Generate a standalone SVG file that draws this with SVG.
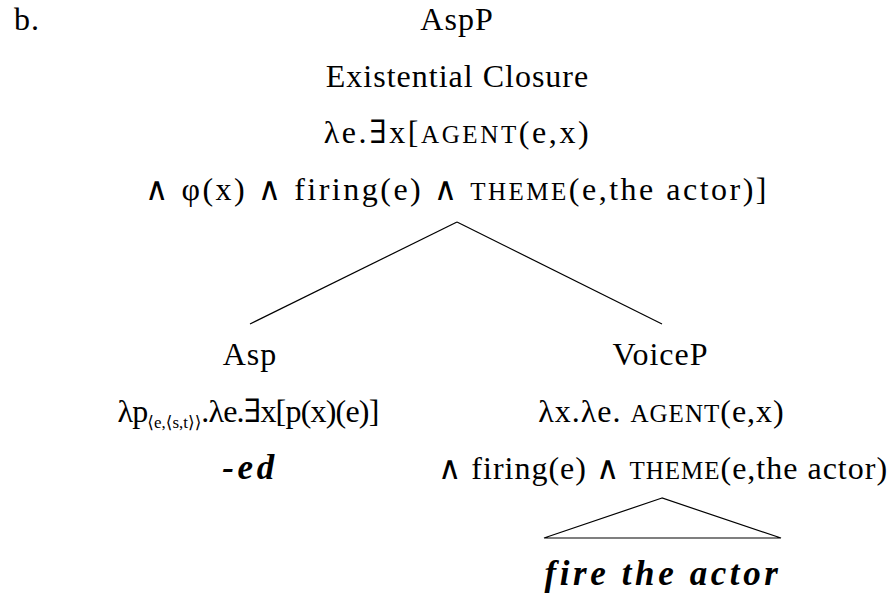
<svg xmlns="http://www.w3.org/2000/svg" width="890" height="597" viewBox="0 0 890 597">
<style>
text{font-family:'Liberation Serif','DejaVu Serif',serif;font-size:32px;fill:#000;text-anchor:middle;letter-spacing:1px}
.sym{font-family:'DejaVu Serif',serif}
.sc{font-size:25px}
.sub{font-size:17px;letter-spacing:0}
.bi{font-weight:bold;font-style:italic;font-size:35px;letter-spacing:3.6px}
.edge{stroke:#000;stroke-width:1.2;fill:none}
</style>
<rect width="890" height="597" fill="#fff"/>
<text x="14" y="30" style="text-anchor:start">b.</text>
<g id="aspp">
<text x="457" y="30">AspP</text>
<text x="457.5" y="87">Existential Closure</text>
<text x="457.5" y="143" style="letter-spacing:2.6px">λe.<tspan class="sym">∃</tspan>x[<tspan class="sc">AGENT</tspan>(e,x)</text>
<text x="457" y="200" style="letter-spacing:2.5px"><tspan class="sym">∧</tspan> φ(x) <tspan class="sym">∧</tspan> firing(e) <tspan class="sym">∧</tspan> <tspan class="sc">THEME</tspan>(e,the actor)]</text>
</g>
<g id="asp">
<text x="250" y="365">Asp</text>
<text x="248" y="422" style="letter-spacing:-0.8px">λp<tspan class="sub" dy="6"><tspan class="sym">⟨</tspan>e,<tspan class="sym">⟨</tspan>s,t<tspan class="sym">⟩⟩</tspan></tspan><tspan dy="-6">.λe.<tspan class="sym">∃</tspan>x[p(x)(e)]</tspan></text>
<text x="250" y="479" class="bi">-ed</text>
</g>
<g id="voicep">
<text x="660.5" y="365">VoiceP</text>
<text x="661.5" y="422">λx.λe. <tspan class="sc">AGENT</tspan>(e,x)</text>
<text x="663" y="479"><tspan class="sym">∧</tspan> firing(e) <tspan class="sym">∧</tspan> <tspan class="sc">THEME</tspan>(e,the actor)</text>
</g>
<g id="vp-triangle">
<polygon class="edge" points="662,498 544,538 781,538"/>
<text x="663" y="585" class="bi">fire the actor</text>
</g>
<g id="connectors">
<line class="edge" x1="457" y1="222" x2="250" y2="324"/>
<line class="edge" x1="457" y1="222" x2="662" y2="324"/>
</g>
</svg>
